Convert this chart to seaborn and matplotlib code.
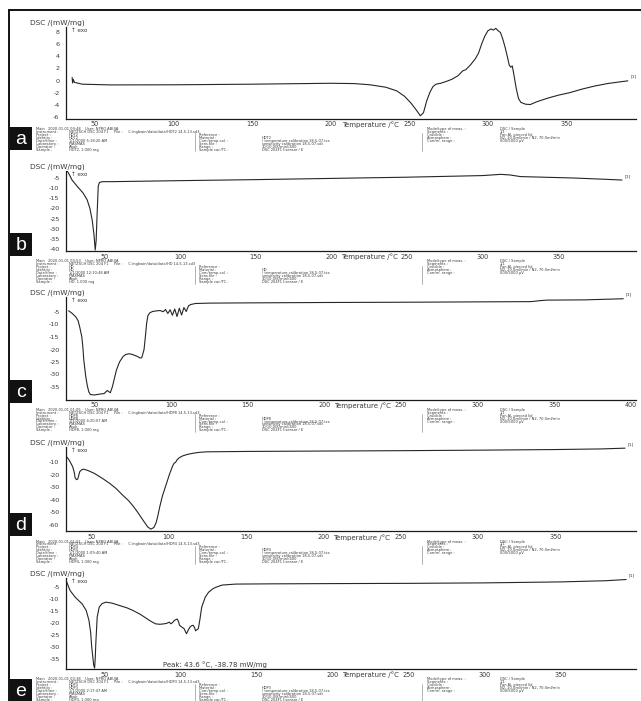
import matplotlib
matplotlib.use("Agg")
import matplotlib.pyplot as plt
import pandas as pd
import seaborn as sns
from matplotlib.patches import Rectangle
from matplotlib.lines import Line2D
from matplotlib.ticker import MultipleLocator, FixedLocator

# ---------------- thermogram data: temperature (°C) / DSC (mW/mg) ----------------
temp_a = [35.5, 35.8, 36.2, 37, 42, 60, 100, 150, 200, 215, 225, 235, 242, 247, 251,
          254, 257, 259, 261, 263, 265, 267, 270, 274, 277, 281, 284, 286, 289, 292,
          294, 296, 298, 300, 302, 303.5, 305, 306.5, 308, 309.5, 311, 312.5, 313.5,
          314.5, 315.5, 316.5, 318, 319.5, 321, 324, 327, 331, 338, 345, 352, 360,
          368, 376, 383, 389]
dsc_a = [0.5, -0.4, 0.2, -0.3, -0.6, -0.72, -0.7, -0.6, -0.45, -0.5, -0.7, -1.1, -1.7,
         -2.6, -3.7, -4.7, -5.8, -5.3, -3.4, -2.0, -1.0, -0.6, -0.45, -0.1, 0.2, 0.8,
         1.6, 1.8, 2.6, 3.6, 4.5, 6.0, 7.3, 8.2, 8.5, 8.3, 8.6, 8.2, 7.9, 6.8, 5.4,
         3.8, 2.6, 2.2, 2.4, 1.0, -1.3, -3.0, -3.6, -3.9, -3.95, -3.5, -2.9, -2.4,
         -2.0, -1.4, -0.9, -0.5, -0.25, -0.05]

temp_b = [25.5, 27, 28.7, 32, 36, 38.7, 40.5, 42, 43.2, 44.0, 44.6, 45.3, 46.0, 46.8,
          48.7, 55, 100, 150, 200, 250, 300, 312, 318, 325, 340, 360, 380, 392]
dsc_b = [-1.5, -3.5, -6, -9, -12.4, -15.8, -20, -25.7, -33, -40.5, -36, -22, -9, -7.2,
         -6.8, -6.8, -6.3, -5.8, -5.2, -4.6, -3.8, -3.2, -3.5, -4.3, -4.6, -5.0, -5.6, -6.0]

temp_c = [33.3, 35.5, 37.9, 39.5, 40.5, 41.9, 42.6, 43.2, 44.5, 45.5, 46.5, 47.5, 50,
          53, 56.5, 58.5, 60.5, 61.8, 63, 64.5, 66.5, 68.7, 70.5, 72.7, 75, 77.5, 80,
          81, 82.5, 83.5, 84.2, 85, 86.1, 88, 90, 93, 95, 96.5, 98, 99.5, 101, 102.5,
          104, 105.5, 107, 108.5, 110, 111.5, 113, 116, 125, 150, 200, 250, 300, 335,
          340, 345, 370, 395]
dsc_c = [-4.5, -5.5, -6.9, -8.5, -10.9, -14.9, -19, -24.2, -30.9, -34.5, -37, -38.0,
         -38.2, -37.9, -37.6, -36.4, -37.3, -35.0, -32.0, -28.2, -25, -22.9, -22.0,
         -21.7, -22.0, -22.6, -23.4, -23.3, -20, -14, -9.4, -6.5, -5.4, -4.8, -4.6,
         -4.4, -4.9, -4.0, -5.6, -4.1, -6.3, -3.8, -6.8, -3.5, -6.2, -3.2, -4.8, -2.5,
         -2.0, -1.6, -1.45, -1.35, -1.2, -1.1, -0.95, -0.85, -0.5, -0.25, -0.15, 0.3]

temp_d = [34.5, 36, 38, 39, 39.6, 40.5, 41.3, 42.6, 44, 45.2, 48, 52, 57, 62, 66, 70.5,
          74, 77, 79.8, 82, 84.5, 86.5, 88.5, 90.5, 92, 93, 94.4, 96, 98.4, 100.5,
          102.5, 103.5, 104.5, 105.5, 107, 109, 112, 116, 120, 125, 150, 200, 250,
          300, 350, 380, 395]
dsc_d = [-6.3, -9, -13.7, -18, -22.5, -24, -23.5, -17.6, -16, -15.7, -16.8, -19, -22.8,
         -27, -31, -36.5, -40.5, -44.8, -49.5, -53.5, -58, -61.5, -63.3, -62, -58, -53,
         -45, -37, -28, -20, -13.5, -11, -10.3, -8.2, -6.5, -5.2, -4.0, -3.0, -2.3,
         -1.9, -1.6, -1.3, -1.0, -0.6, -0.1, 0.4, 1.0]

peak_e_temp = 43.6
peak_e_dsc = -38.78
temp_e = [24.8, 27.5, 30.9, 35.4, 38.1, 39.9, 41, 41.7, 43.0, peak_e_temp, 44.0, 44.4,
          45.3, 46.6, 48.5, 51.1, 55, 60, 65, 69, 74, 78, 81, 83.7, 86.5, 89.3, 91,
          92.7, 93.8, 95, 96, 97.9, 98.8, 99.4, 101, 102.4, 104, 105.2, 106.2, 107.3,
          108.4, 109.3, 110, 111, 111.8, 112.9, 114, 116.3, 118.5, 121, 123, 127.5,
          136.5, 160, 200, 250, 300, 350, 380, 393]
dsc_e = [-2.3, -6.6, -9.4, -12.1, -14.9, -19, -24, -30, -37.5, peak_e_dsc, -35, -28.5,
         -17.6, -13.5, -12.0, -11.4, -11.8, -12.8, -13.8, -14.9, -16.6, -18.3, -19.5,
         -20.4, -20.6, -20.4, -20.2, -19.7, -20.4, -19.8, -19.0, -18.4, -19.5, -21,
         -21.8, -22.4, -24.5, -23.0, -21.8, -21.2, -21, -22, -23.3, -22.8, -22.4,
         -18.3, -13.5, -9.4, -7.3, -6.0, -5.3, -4.3, -3.9, -3.8, -3.7, -3.6, -3.4,
         -3.0, -2.5, -2.0]

yticks_a = [-6, -4, -2, 0, 2, 4, 6, 8]
yticks_b = [-40, -35, -30, -25, -20, -15, -10, -5]
yticks_c = [-35, -30, -25, -20, -15, -10, -5]
yticks_d = [-60, -50, -40, -30, -20, -10]
yticks_e = [-35, -30, -25, -20, -15, -10, -5]
xticks_std = [50, 100, 150, 200, 250, 300, 350]
xticks_c = [50, 100, 150, 200, 250, 300, 350, 400]

panel_letters = ["a", "b", "c", "d", "e"]
sample_ids = ["HDT2", "HD", "HDP8", "HDP4", "HDP3"]
run_stamps = ["2020-01-01 09:48", "2020-01-01 00:53", "2020-01-01 01:05",
              "2020-01-01 01:01", "2020-01-01 00:38"]
date_times = ["1/1/2000 5:18:20 AM", "1/1/2000 12:10:48 AM", "1/1/2000 4:20:07 AM",
              "1/1/2000 1:09:40 AM", "1/1/2000 2:17:47 AM"]

# ---------------- page geometry (pixels) ----------------
W, H = 641, 701
AX_L, AX_R = 66, 636


def fx(x):
    return x / W


def fy(y):
    return 1 - y / H


layout = [
    # top px, bottom px, xlim, ylim, letter-box top px
    dict(top=27.1, bot=118.8, xlim=(31.6, 394.2), ylim=(-6.3, 8.8), box=127),
    dict(top=170.9, bot=251.1, xlim=(24.7, 401.3), ylim=(-41, -1.5), box=233),
    dict(top=297.5, bot=399.5, xlim=(31.6, 403.3), ylim=(-40, 0.8), box=380),
    dict(top=446.9, bot=531.3, xlim=(33.7, 402.1), ylim=(-65, 2), box=513),
    dict(top=578.3, bot=669.1, xlim=(24.8, 399.5), ylim=(-39.2, -1.5), box=679),
]
curves = [(temp_a, dsc_a), (temp_b, dsc_b), (temp_c, dsc_c), (temp_d, dsc_d), (temp_e, dsc_e)]
yticks_all = [yticks_a, yticks_b, yticks_c, yticks_d, yticks_e]
xticks_all = [xticks_std, xticks_std, xticks_c, xticks_std, xticks_std]

sns.set_theme(style="white")
plt.rcParams["font.family"] = ["DejaVu Sans"]
plt.rcParams["axes.unicode_minus"] = False

fig = plt.figure(figsize=(W / 100, H / 100), dpi=100)
fig.patch.set_facecolor("white")

LINE = "#262626"
TXT = "#3a3a3a"

for i, lay in enumerate(layout):
    top, bot = lay["top"], lay["bot"]
    ax = fig.add_axes([fx(AX_L), fy(bot), (AX_R - AX_L) / W, (bot - top) / H])
    ax.set_facecolor("none")
    t, v = curves[i]
    df = pd.DataFrame({"Temperature": t, "DSC": v})
    sns.lineplot(data=df, x="Temperature", y="DSC", ax=ax, color=LINE, lw=0.8,
                 sort=False, estimator=None)
    ax.set_xlim(*lay["xlim"])
    ax.set_ylim(*lay["ylim"])
    ax.set_xlabel("")
    ax.set_ylabel("")
    for s in ["top", "right"]:
        ax.spines[s].set_visible(False)
    for s in ["left", "bottom"]:
        ax.spines[s].set_color("#1a1a1a")
        ax.spines[s].set_linewidth(0.9)
    ax.yaxis.set_major_locator(FixedLocator(yticks_all[i]))
    ax.xaxis.set_major_locator(FixedLocator(xticks_all[i]))
    ax.xaxis.set_minor_locator(MultipleLocator(10))
    ax.tick_params(axis="y", which="major", direction="out", length=2.2, width=0.6,
                   labelsize=4.6, pad=2.5, colors="#1a1a1a", labelcolor=TXT)
    ax.tick_params(axis="x", which="major", direction="out", length=1.6, width=0.6,
                   labelsize=4.7, pad=0.2, colors="#1a1a1a", labelcolor=TXT)
    ax.tick_params(axis="x", which="minor", direction="out", length=1.0, width=0.5,
                   colors="#1a1a1a")
    ax.grid(False)

    # end-of-curve segment marker
    ax.annotate("[1]", (t[-1], v[-1]), xytext=(2, 1.5), textcoords="offset points",
                fontsize=3.2, color=TXT, va="bottom")

    # y-axis caption and exo arrow
    fig.text(fx(30), fy(top - 4.6), "DSC /(mW/mg)", fontsize=5.3, color=TXT,
             ha="left", va="center")
    fig.text(fx(71), fy(top + 3.2), "↑ exo", fontsize=4.1, color=TXT,
             ha="left", va="center")
    # x-axis caption, set between the 200 and 250 tick labels
    x_mid = ax.transData.transform((225, 0))[0]
    x_mid = fig.transFigure.inverted().transform((x_mid, 0))[0]
    fig.text(x_mid, fy(bot + 6.0), "Temperature /°C", fontsize=5.0, color=TXT,
             ha="center", va="center")

    # instrument record beneath each thermogram
    m0 = bot + 10.2
    step = 2.95
    sid = sample_ids[i]
    col1 = [("Main   " + run_stamps[i] + "    User: NPRO ABUJA", ""),
            ("Instrument :", "NETZSCH DSC 204 F1     File :     C:/ngbwin/data/data/" + sid + " 14-5-13.sd3"),
            ("Project :", sid),
            ("Identity :", sid),
            ("Date/time :", date_times[i]),
            ("Laboratory :", "PTASMAS"),
            ("Operator :", "Abuh"),
            ("Sample :", sid + ", 1.000 mg")]
    col2 = [("Reference :", ""),
            ("Material :", sid),
            ("Corr./temp.cal. :", "/ temperature calibration 18-5-07.tcs"),
            ("Sens.file :", "sensitivity calibration 18-5-07.sdt"),
            ("Range :", "30/10.0(K/min)/400"),
            ("Sample car./TC :", "DSC 204F1 f-sensor / E")]
    col3 = [("Mode/type of meas. :", "DSC / Sample"),
            ("Segments :", "1/1"),
            ("Crucible :", "Pan Al, pierced lid"),
            ("Atmosphere :", "N2, 20.0ml/min / N2, 70.0ml/min"),
            ("Corr/m. range :", "000/5000 µV")]
    fs = 2.6
    for k, (lab, val) in enumerate(col1):
        yy = fy(m0 + k * step)
        fig.text(fx(36), yy, lab, fontsize=fs, color=TXT, va="center")
        if val:
            fig.text(fx(69), yy, val, fontsize=fs, color=TXT, va="center")
    for k, (lab, val) in enumerate(col2):
        yy = fy(m0 + (k + 2) * step)
        fig.text(fx(199), yy, lab, fontsize=fs, color=TXT, va="center")
        if val:
            fig.text(fx(262), yy, val, fontsize=fs, color=TXT, va="center")
    for k, (lab, val) in enumerate(col3):
        yy = fy(m0 + k * step)
        fig.text(fx(427), yy, lab, fontsize=fs, color=TXT, va="center")
        fig.text(fx(500), yy, val, fontsize=fs, color=TXT, va="center")
    for xs in (195, 422):
        fig.add_artist(Line2D([fx(xs), fx(xs)], [fy(m0 + 1.5 * step), fy(m0 + 7.6 * step)],
                              color="#777777", lw=0.4))

    # panel letter tag
    bh = 23 if i < 4 else 22
    fig.add_artist(Rectangle((fx(10), fy(lay["box"] + bh)), 22 / W, bh / H,
                             facecolor="#111111", edgecolor="none"))
    fig.text(fx(21), fy(lay["box"] + bh / 2 + 1), panel_letters[i], fontsize=14,
             color="white", ha="center", va="center",
             family=["Liberation Sans Narrow", "Liberation Sans", "DejaVu Sans"])

    if i == 4:
        ax.text(0.17, 0.012, f"Peak: {peak_e_temp} °C, {peak_e_dsc} mW/mg",
                transform=ax.transAxes, fontsize=5.0, color=TXT,
                ha="left", va="bottom")

# page frame
fig.add_artist(Line2D([fx(9), fx(9)], [fy(10), fy(701)], color="black", lw=1.3))
fig.add_artist(Line2D([fx(9), fx(641)], [fy(10), fy(10)], color="black", lw=1.3))

fig.savefig("out.png", dpi=100, facecolor="white")
